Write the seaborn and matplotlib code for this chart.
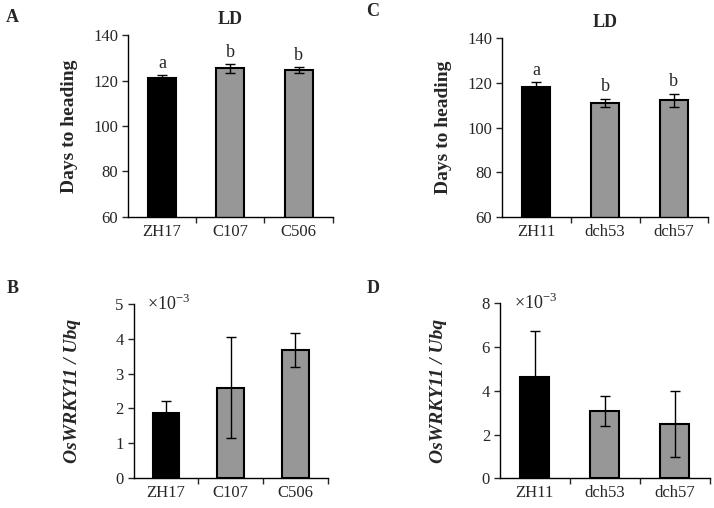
import matplotlib
matplotlib.use('Agg')
import matplotlib.pyplot as plt
import numpy as np
import seaborn as sns
import pandas as pd

# panel A / B lines
lines_ab = ['ZH17', 'C107', 'C506']
# panel C / D lines
lines_cd = ['ZH11', 'dch53', 'dch57']

heading_a = [121.3, 125.3, 124.6]
heading_a_err = [1.0, 1.9, 1.2]
letters_a = ['a', 'b', 'b']

heading_c = [118.2, 111.0, 112.2]
heading_c_err = [2.0, 1.8, 3.0]
letters_c = ['a', 'b', 'b']

expr_b = [1.88, 2.60, 3.67]
expr_b_err = [0.33, 1.46, 0.48]

expr_d = [4.64, 3.08, 2.49]
expr_d_err = [2.10, 0.69, 1.52]

bar_colors = ['#000000', '#979797', '#979797']

sns.set_style('ticks')
plt.rcParams['font.family'] = ['Liberation Serif', 'DejaVu Serif']
plt.rcParams['mathtext.fontset'] = 'custom'
plt.rcParams['mathtext.rm'] = 'Liberation Serif'

fig = plt.figure(figsize=(7.14, 5.08), dpi=100)
ax_a = fig.add_axes([0.179, 0.573, 0.287, 0.358])
ax_c = fig.add_axes([0.703, 0.573, 0.289, 0.352])
ax_b = fig.add_axes([0.187, 0.0585, 0.272, 0.3435])
ax_d = fig.add_axes([0.700, 0.0585, 0.294, 0.3445])


def draw_panel(ax, names, vals, errs, ylim, yticks, ylabel, italic=False, letters=None, title=None, sci=False):
    df = pd.DataFrame({'line': names, 'value': vals})
    sns.barplot(data=df, x='line', y='value', hue='line', palette=bar_colors,
                width=0.41, edgecolor='black', linewidth=1.5, errorbar=None,
                legend=False, ax=ax)
    ax.errorbar(np.arange(len(names)), vals, yerr=errs, fmt='none', ecolor='black',
                elinewidth=1.0, capsize=3.5, capthick=1.0, zorder=5)
    ax.set_ylim(*ylim)
    ax.set_xlim(-0.5, len(names) - 0.5)
    ax.set_yticks(yticks)
    ax.set_xlabel('')
    if italic:
        ax.set_ylabel(ylabel, fontsize=14, fontweight='bold', fontstyle='italic', labelpad=25)
    else:
        ax.set_ylabel(ylabel, fontsize=14, fontweight='bold', labelpad=11)
    sns.despine(ax=ax)
    for s in ['left', 'bottom']:
        ax.spines[s].set_linewidth(1.0)
        ax.spines[s].set_color('black')
    ax.tick_params(axis='y', direction='out', length=4, width=1.0, labelsize=12, pad=3)
    ax.tick_params(axis='x', which='major', length=0, labelsize=12, pad=5)
    ax.set_xticks(np.arange(len(names)) + 0.5, minor=True)
    ax.tick_params(axis='x', which='minor', direction='out', length=4, width=1.0)
    if letters is not None:
        span = ylim[1] - ylim[0]
        for i, (v, e, t) in enumerate(zip(vals, errs, letters)):
            ax.text(i, v + e + span * 0.02, t, ha='center', va='bottom', fontsize=13)
    if title:
        ax.set_title(title, fontsize=13, fontweight='bold', pad=8)
    if sci:
        ax.text(0.07, 1.0, r'×10$^{-3}$', transform=ax.transAxes, ha='left', va='center', fontsize=13)


draw_panel(ax_a, lines_ab, heading_a, heading_a_err, (60, 140), [60, 80, 100, 120, 140],
           'Days to heading', letters=letters_a, title='LD')
draw_panel(ax_c, lines_cd, heading_c, heading_c_err, (60, 140), [60, 80, 100, 120, 140],
           'Days to heading', letters=letters_c, title='LD')
draw_panel(ax_b, lines_ab, expr_b, expr_b_err, (0, 5), [0, 1, 2, 3, 4, 5],
           'OsWRKY11 / Ubq', italic=True, sci=True)
draw_panel(ax_d, lines_cd, expr_d, expr_d_err, (0, 8), [0, 2, 4, 6, 8],
           'OsWRKY11 / Ubq', italic=True, sci=True)

for lab, x, y in [('A', 0.008, 0.982), ('B', 0.010, 0.448), ('C', 0.513, 0.995), ('D', 0.514, 0.448)]:
    fig.text(x, y, lab, fontsize=13, fontweight='bold', ha='left', va='top')

plt.savefig('out.png', dpi=100)
